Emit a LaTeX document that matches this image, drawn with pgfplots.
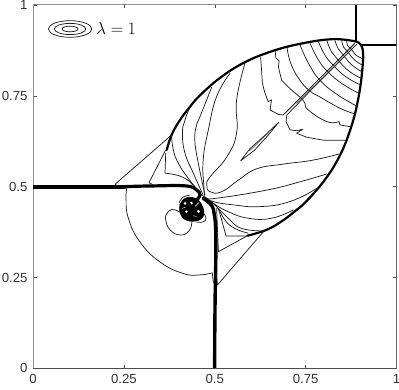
\documentclass[border=0pt]{standalone}
\usepackage{fontspec}
\setmainfont{Liberation Sans}
\usepackage{pgfplots}
\pgfplotsset{compat=1.18}
\definecolor{axg}{gray}{0.55}
\definecolor{axd}{gray}{0.3}
\pgfplotsset{
  thin c/.style={no markers, color=black!90, line width=0.72pt, smooth, tension=0.8, line join=round},
  sharp c/.style={no markers, color=black!90, line width=0.72pt, sharp plot, line join=round},
  shock/.style={no markers, color=black, line width=#1, smooth, tension=0.7, line cap=round},
}
\begin{document}
\begin{tikzpicture}
\useasboundingbox (-33pt,-20.7pt) rectangle (366pt,368.3pt);
\begin{axis}[
  at={(0pt,0pt)}, anchor=south west,
  scale only axis, width=363.6pt, height=363.3pt,
  xmin=0, xmax=1, ymin=0, ymax=1,
  xtick={0,0.25,0.5,0.75,1}, ytick={0,0.25,0.5,0.75,1},
  xticklabels={0,0.25,0.5,0.75,1}, yticklabels={0,0.25,0.5,0.75,1},
  tick align=inside, tick pos=both,
  major tick length=3.5pt,
  tick style={axd, line width=0.6pt},
  axis line style={axg, line width=1pt},
  ticklabel style={font=\fontsize{13.2}{15}\selectfont, text=black!80},
  xticklabel style={yshift=-2.5pt},
  yticklabel style={xshift=-2pt},
  clip=true,
]
% shocks at the corner
\addplot[no markers, black, line width=2.3pt] coordinates {(.888,1) (.888,.897)};
\addplot[no markers, black, line width=2.3pt] coordinates {(1,.889) (.903,.889)};
% bow shocks
\addplot[shock=2.2pt] coordinates {(.368,.601) (.381,.642) (.404,.683) (.432,.720) (.459,.751) (.514,.799) (.578,.840) (.652,.871) (.734,.893) (.825,.906) (.890,.899)};
\addplot[shock=2.2pt] coordinates {(.890,.899) (.906,.881) (.906,.825) (.893,.734) (.871,.652) (.840,.578) (.799,.514) (.751,.459) (.720,.432) (.683,.404) (.642,.381) (.590,.365)};
% contacts
\addplot[shock=3.7pt] coordinates {(0,.5) (.12,.5) (.25,.5)};
\addplot[shock=3.2pt] coordinates {(.25,.5) (.33,.502) (.42,.502) (.45,.491) (.459,.477) (.450,.463)};
\addplot[shock=3.4pt] coordinates {(.468,.468) (.491,.449) (.498,.427) (.502,.390) (.503,.325) (.501,.2) (.500,.1) (.4996,0)};
% vortex
\addplot[no markers, fill=black, draw=black, line width=0.6pt, smooth, tension=0.6] coordinates {(.404,.450) (.415,.466) (.434,.471) (.454,.463) (.467,.444) (.470,.422) (.457,.408) (.432,.405) (.413,.413) (.404,.431) (.404,.450)};
\addplot[no markers, fill=white, draw=none] coordinates {(.414,.454) (.418,.458) (.422,.454) (.418,.450) (.414,.454)};
\addplot[no markers, fill=white, draw=none] coordinates {(.432,.456) (.436,.459) (.440,.454) (.436,.451) (.432,.456)};
\addplot[no markers, fill=white, draw=none] coordinates {(.418,.431) (.422,.435) (.426,.431) (.422,.427) (.418,.431)};
\addplot[no markers, fill=white, draw=none] coordinates {(.451,.433) (.456,.436) (.459,.431) (.455,.427) (.451,.433)};
\addplot[no markers, white, line width=0.6pt] coordinates {(.456,.456) (.446,.446)};
\addplot[no markers, white, line width=0.4pt] coordinates {(.440,.420) (.450,.418)};
\addplot[no markers, white, line width=0.4pt] coordinates {(.410,.440) (.420,.444)};
% lobes
\addplot[thin c] coordinates {(.402,.455) (.412,.471) (.431,.476)};
\addplot[thin c] coordinates {(.468,.428) (.476,.414) (.468,.403) (.448,.403)};
\addplot[thin c] coordinates {(.404,.430) (.382,.437) (.367,.424) (.365,.408) (.377,.381) (.404,.367) (.429,.378) (.437,.403)};
% large arc at lower left
\addplot[thin c] coordinates {(.258,.495) (.256,.469) (.262,.414) (.294,.348) (.349,.293) (.413,.261) (.459,.257) (.493,.263)};
\addplot[sharp c] coordinates {(.493,.263) (.496,.235)};
\addplot[sharp c] coordinates {(.245,.499) (.258,.495)};
% triple points, upper left
\addplot[sharp c] coordinates {(.232,.502) (.226,.507) (.381,.642)};
\addplot[sharp c] coordinates {(.330,.505) (.319,.511) (.365,.601)};
\addplot[sharp c] coordinates {(.365,.593) (.363,.537)};
% triple points, lower right
\addplot[sharp c] coordinates {(.505,.260) (.507,.229) (.638,.381)};
\addplot[sharp c] coordinates {(.505,.441) (.510,.321) (.588,.364)};
\addplot[sharp c] coordinates {(.510,.440) (.531,.364) (.588,.364)};
% fan, upper
\addplot[thin c] coordinates {(.363,.537) (.418,.523) (.459,.482) (.473,.471)};
\addplot[thin c] coordinates {(.381,.642) (.386,.601) (.400,.564) (.427,.523) (.464,.477)};
\addplot[thin c] coordinates {(.432,.720) (.418,.683) (.411,.647) (.418,.592) (.441,.537) (.468,.477)};
\addplot[thin c] coordinates {(.492,.775) (.459,.692) (.450,.670) (.445,.630) (.453,.573) (.473,.477)};
\addplot[thin c] coordinates {(.542,.812) (.505,.748) (.482,.655) (.468,.573) (.470,.500) (.473,.471)};
\addplot[thin c] coordinates {(.583,.840) (.560,.738) (.560,.648) (.533,.582) (.487,.527) (.478,.504) (.487,.486) (.519,.486) (.565,.518) (.615,.549) (.688,.562) (.770,.573) (.842,.590)};
% fan, lower
\addplot[thin c] coordinates {(.473,.471) (.495,.467) (.640,.490) (.740,.515) (.808,.535)};
\addplot[thin c] coordinates {(.473,.471) (.495,.459) (.550,.450) (.624,.445) (.707,.459) (.780,.495)};
\addplot[thin c] coordinates {(.473,.471) (.496,.454) (.537,.431) (.592,.413) (.656,.413) (.716,.436)};
\addplot[thin c] coordinates {(.473,.471) (.500,.450) (.537,.413) (.574,.385) (.638,.378)};
\addplot[thin c] coordinates {(.473,.471) (.505,.445) (.528,.408) (.555,.385) (.592,.372)};
% curves through the slip line
\addplot[sharp c] coordinates {(.626,.858) (.629,.815) (.631,.784) (.638,.757) (.647,.734) (.656,.739) (.652,.711) (.675,.699) (.688,.697) (.762,.771) (.885,.895)};
\addplot[sharp c] coordinates {(.891,.892) (.762,.763) (.698,.697) (.696,.679) (.707,.656) (.725,.654) (.742,.658) (.725,.647) (.753,.636) (.798,.628) (.858,.628)};
\addplot[no markers, black!60, line width=0.6pt] coordinates {(.725,.728) (.885,.892)};
\addplot[sharp c] coordinates {(.666,.874) (.668,.854) (.677,.846) (.675,.830) (.679,.812) (.684,.793)};
\addplot[thin c] coordinates {(.684,.793) (.711,.766) (.737,.744) (.748,.729) (.757,.711) (.808,.679) (.842,.679)};
\addplot[sharp c] coordinates {(.842,.679) (.844,.670) (.872,.665)};
\addplot[thin c] coordinates {(.699,.882) (.709,.839) (.734,.793) (.762,.763) (.789,.747) (.844,.716) (.883,.701)};
\addplot[thin c] coordinates {(.734,.891) (.758,.839) (.789,.793) (.836,.754) (.890,.722)};
\addplot[thin c] coordinates {(.762,.895) (.783,.852) (.811,.816) (.851,.783) (.896,.757)};
\addplot[thin c] coordinates {(.785,.899) (.803,.862) (.828,.832) (.861,.802) (.901,.780)};
\addplot[thin c] coordinates {(.808,.903) (.821,.871) (.841,.846) (.869,.818) (.903,.798)};
\addplot[thin c] coordinates {(.830,.903) (.840,.879) (.855,.860) (.877,.835) (.905,.816)};
\addplot[thin c] coordinates {(.849,.903) (.854,.884) (.866,.871) (.883,.850) (.905,.835)};
\addplot[thin c] coordinates {(.863,.902) (.865,.888) (.875,.879) (.887,.863) (.905,.853)};
% slender lens on the diagonal
\addplot[sharp c] coordinates {(.571,.571) (.597,.605) (.633,.637) (.676,.677) (.647,.642) (.610,.601) (.571,.571)};
\addplot[no markers, black!65, line width=0.7pt] coordinates {(.595,.598) (.650,.651)};
% frame, darker on two sides
\draw[axd, line width=0.7pt] (rel axis cs:0,0) -- (rel axis cs:1,0) -- (rel axis cs:1,1);
% legend glyph
\draw[black!90, line width=0.72pt] (axis cs:.102,.934) ellipse [x radius=21.7pt, y radius=8.3pt];
\draw[black!90, line width=0.72pt] (axis cs:.102,.934) ellipse [x radius=15.7pt, y radius=5.6pt];
\draw[black!90, line width=0.72pt] (axis cs:.102,.934) ellipse [x radius=8pt, y radius=2.8pt];
\node[anchor=west, inner sep=0pt, font=\fontsize{18.5}{21}\selectfont] at (axis cs:.173,.934) {$\lambda=1$};
\end{axis}
\end{tikzpicture}
\end{document}
